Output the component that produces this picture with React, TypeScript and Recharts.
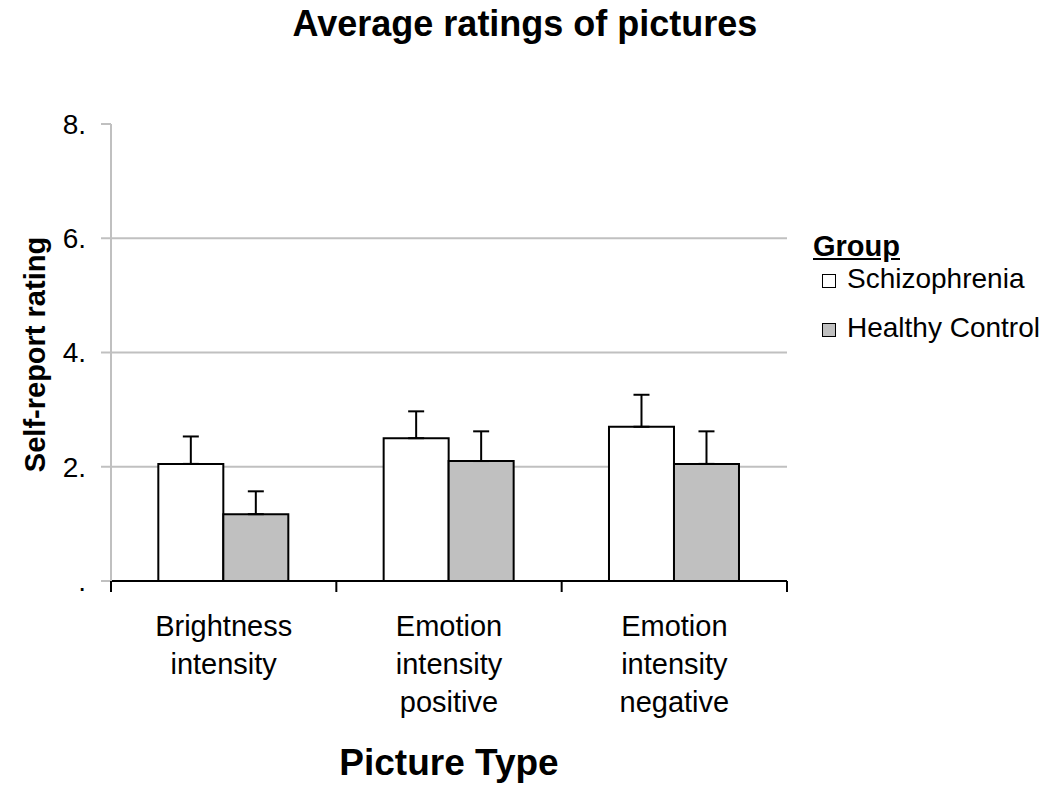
import {
	Bar,
	BarChart,
	CartesianGrid,
	ErrorBar,
	Legend,
	XAxis,
	YAxis,
} from 'recharts';

const pictureTypes = [
	'Brightness\nintensity',
	'Emotion\nintensity\npositive',
	'Emotion\nintensity\nnegative',
];
const groups = ['Schizophrenia', 'Healthy Control'];
const schizophrenia = [2.05, 2.5, 2.7];
const schizophreniaSe = [0.48, 0.47, 0.56];
const healthyControl = [1.17, 2.1, 2.05];
const healthyControlSe = [0.4, 0.52, 0.57];
const yTicks = [0, 2, 4, 6, 8];
const gridValues = [2, 4, 6];

const data = pictureTypes.map((name, i) => ({
	name,
	schizophrenia: schizophrenia[i],
	schErr: [0, schizophreniaSe[i]],
	healthyControl: healthyControl[i],
	hcErr: [0, healthyControlSe[i]],
}));

const FONT = "'Liberation Sans', Arial, sans-serif";
const WIDTH = 1050;
const HEIGHT = 791;
const margin = { top: 124, right: 263, bottom: 0, left: 0 };
const Y_AXIS_W = 111;
const X_AXIS_H = 210;
const halfBand = (WIDTH - margin.right - Y_AXIS_W) / pictureTypes.length / 2;

function CategoryTick(props: any) {
	const { x, y, payload, index } = props;
	const lines = String(payload.value).split('\n');
	return (
		<g>
			<line x1={x - halfBand} x2={x - halfBand} y1={y} y2={y + 11} stroke="#000" strokeWidth={2} />
			{index === pictureTypes.length - 1 && (
				<line x1={x + halfBand} x2={x + halfBand} y1={y} y2={y + 11} stroke="#000" strokeWidth={2} />
			)}
			<text x={x} y={y} textAnchor="middle" fontSize={29} fontFamily={FONT} fill="#000">
				{lines.map((l, i) => (
					<tspan key={i} x={x} dy={i === 0 ? 55 : 38}>
						{l}
					</tspan>
				))}
			</text>
		</g>
	);
}

function YTitle(props: any) {
	const { viewBox } = props;
	const x = viewBox.x + 45;
	const cy = viewBox.y + viewBox.height / 2 + 2;
	return (
		<text
			x={x}
			y={cy}
			transform={`rotate(-90, ${x}, ${cy})`}
			textAnchor="middle"
			fontSize={29}
			fontWeight="bold"
			fontFamily={FONT}
			fill="#000"
		>
			Self-report rating
		</text>
	);
}

function GroupLegend(props: any) {
	const { payload = [] } = props;
	const items = [...payload].sort(
		(a: any, b: any) => groups.indexOf(a.value) - groups.indexOf(b.value),
	);
	return (
		<div style={{ fontFamily: FONT, color: '#000', textAlign: 'left' }}>
			<div style={{ fontSize: 29, fontWeight: 'bold', textDecoration: 'underline', lineHeight: '32px' }}>
				Group
			</div>
			{items.map((entry: any, i: number) => (
				<div
					key={entry.value}
					style={{ fontSize: 28, lineHeight: '49px', marginTop: i === 0 ? -8 : 0, whiteSpace: 'nowrap' }}
				>
					<span
						style={{
							display: 'inline-block',
							width: 12,
							height: 12,
							marginLeft: 9,
							marginRight: 11,
							border: '1.5px solid #000',
							background: entry.color,
							verticalAlign: 'baseline',
						}}
					/>
					{entry.value}
				</div>
			))}
		</div>
	);
}

export default function App() {
	return (
		<div style={{ position: 'absolute', left: 0, top: 0, width: WIDTH, height: HEIGHT, background: '#fff' }}>
			<div
				style={{
					position: 'absolute',
					left: 0,
					top: 4,
					width: WIDTH,
					textAlign: 'center',
					fontFamily: FONT,
					fontWeight: 'bold',
					fontSize: 36,
					lineHeight: '40px',
					color: '#000',
					zIndex: 2,
				}}
			>
				Average ratings of pictures
			</div>
			<BarChart
				width={WIDTH}
				height={HEIGHT}
				data={data}
				margin={margin}
				barCategoryGap="21%"
				barGap={0}
			>
				<CartesianGrid vertical={false} horizontalValues={gridValues} stroke="#c0c0c0" strokeWidth={2} />
				<XAxis
					dataKey="name"
					height={X_AXIS_H}
					interval={0}
					tickLine={false}
					tickSize={0}
					tickMargin={0}
					axisLine={{ stroke: '#000', strokeWidth: 2 }}
					tick={<CategoryTick />}
					label={{
						value: 'Picture Type',
						position: 'insideBottom',
						offset: 16,
						style: { fontSize: 37, fontWeight: 'bold', fontFamily: FONT, fill: '#000' },
					}}
				/>
				<YAxis
					domain={[0, 8]}
					ticks={yTicks}
					interval={0}
					width={Y_AXIS_W}
					tickFormatter={(v: number) => (v === 0 ? '.' : `${v}.`)}
					axisLine={{ stroke: '#c0c0c0', strokeWidth: 2 }}
					tickLine={{ stroke: '#c0c0c0', strokeWidth: 2 }}
					tickSize={10}
					tickMargin={15}
					tick={{ fontSize: 28, fill: '#000', fontFamily: FONT }}
					label={{ content: <YTitle /> }}
				/>
				<Legend
					layout="horizontal"
					align="center"
					verticalAlign="middle"
					itemSorter={null}
					wrapperStyle={{ left: 813, top: 230, width: 237, height: 'auto' }}
					content={<GroupLegend />}
				/>
				<Bar
					dataKey="schizophrenia"
					name="Schizophrenia"
					fill="#ffffff"
					stroke="#000"
					strokeWidth={2}
					isAnimationActive={false}
				>
					<ErrorBar dataKey="schErr" width={8} stroke="#000" strokeWidth={2} />
				</Bar>
				<Bar
					dataKey="healthyControl"
					name="Healthy Control"
					fill="#c0c0c0"
					stroke="#000"
					strokeWidth={2}
					isAnimationActive={false}
				>
					<ErrorBar dataKey="hcErr" width={8} stroke="#000" strokeWidth={2} />
				</Bar>
			</BarChart>
		</div>
	);
}
